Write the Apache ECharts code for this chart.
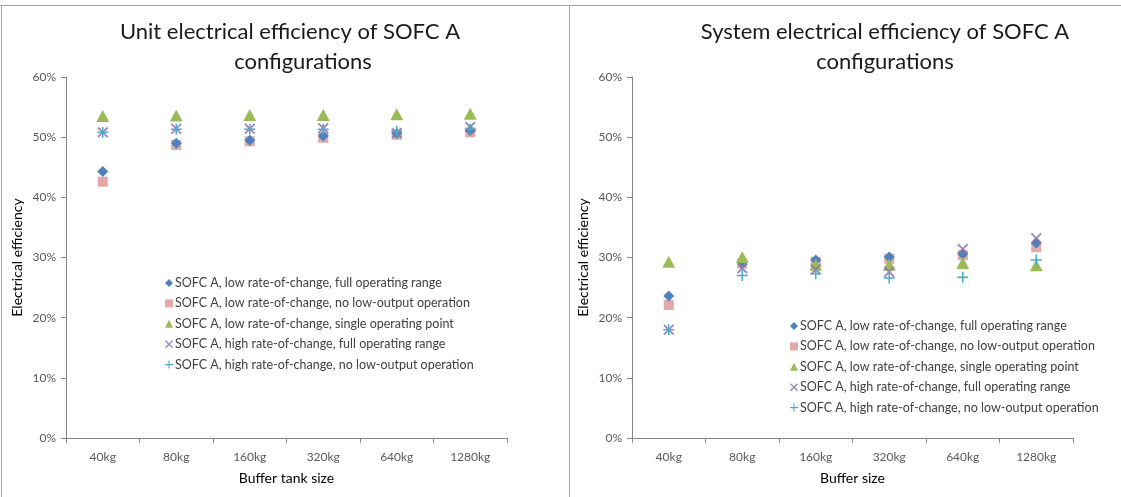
<!DOCTYPE html>
<html>
<head>
<meta charset="utf-8">
<script src="https://cdn.jsdelivr.net/npm/echarts@6/dist/echarts.min.js"></script>
<style>
html,body{margin:0;padding:0;background:#fff;}
#c{width:1121px;height:497px;}
</style>
</head>
<body>
<div id="c"></div>
<script>
// ---- data ----
const categories = ['40kg', '80kg', '160kg', '320kg', '640kg', '1280kg'];
const seriesNames = [
  'SOFC A, low rate-of-change, full operating range',
  'SOFC A, low rate-of-change, no low-output operation',
  'SOFC A, low rate-of-change, single operating point',
  'SOFC A, high rate-of-change, full operating range',
  'SOFC A, high rate-of-change, no low-output operation'
];
// Unit electrical efficiency (%)
const unitLowFull   = [44.3, 49.0, 49.5, 50.2, 50.6, 51.1];
const unitLowNoLow  = [42.6, 48.7, 49.3, 49.9, 50.4, 50.8];
const unitLowSingle = [53.5, 53.6, 53.7, 53.7, 53.8, 53.9];
const unitHighFull  = [50.8, 51.4, 51.4, 51.5, 50.7, 51.7];
const unitHighNoLow = [50.8, 51.3, 51.3, 51.3, 51.0, 51.3];
// System electrical efficiency (%)
const sysLowFull   = [23.6, 29.3, 29.6, 30.1, 30.6, 32.4];
const sysLowNoLow  = [22.1, 29.0, 29.3, 29.8, 30.4, 31.7];
const sysLowSingle = [29.3, 30.1, 28.8, 28.8, 29.1, 28.7];
const sysHighFull  = [18.0, 28.2, 28.0, 27.6, 31.4, 33.2];
const sysHighNoLow = [18.0, 27.0, 27.3, 26.6, 26.7, 29.6];
const yTicks = [0, 10, 20, 30, 40, 50, 60];

// ---- styles ----
const FONT = 'Lato';
const colors = ['#4F81BD', '#E2A3A2', '#9BBB59', '#8C72AE', '#4BACC6'];
const xPath = 'path://M0,1.2L1.2,0L5,3.8L8.8,0L10,1.2L6.2,5L10,8.8L8.8,10L5,6.2L1.2,10L0,8.8L3.8,5Z';
const plusPath = 'path://M4.3,0H5.7V4.3H10V5.7H5.7V10H4.3V5.7H0V4.3H4.3Z';
const symbols = ['diamond', 'rect', 'triangle', xPath, plusPath];
const sizes = [[11, 11], [10, 10], [13, 12], [11, 11], [11, 11]];
const opac = [1, 0.95, 1, 0.85, 1];

const unitData = [unitLowFull, unitLowNoLow, unitLowSingle, unitHighFull, unitHighNoLow];
const sysData = [sysLowFull, sysLowNoLow, sysLowSingle, sysHighFull, sysHighNoLow];

function mkSeries(arr, idx) {
  return arr.map((d, i) => ({
    name: seriesNames[i],
    type: 'scatter',
    xAxisIndex: idx, yAxisIndex: idx,
    data: d,
    symbol: symbols[i],
    symbolSize: sizes[i],
    itemStyle: { color: colors[i], opacity: opac[i] },
    z: [2, 1, 3, 4, 5][i]
  }));
}

const axisLineStyle = { color: '#868686', width: 1 };
function mkX(grid, name) {
  return {
    type: 'category', gridIndex: grid, data: categories,
    boundaryGap: true,
    axisLine: { lineStyle: axisLineStyle },
    axisTick: { show: true, length: 5, lineStyle: axisLineStyle },
    axisLabel: { color: '#595959', fontFamily: FONT, fontSize: 12, margin: 13 },
    name: name, nameLocation: 'middle', nameGap: 33,
    nameTextStyle: { color: '#000', fontFamily: FONT, fontSize: 14 }
  };
}
function mkY(grid) {
  return {
    type: 'value', gridIndex: grid, min: yTicks[0], max: yTicks[yTicks.length - 1], interval: 10,
    axisLine: { show: true, lineStyle: axisLineStyle },
    axisTick: { show: true, length: 5, lineStyle: axisLineStyle },
    splitLine: { show: false },
    axisLabel: { color: '#595959', fontFamily: FONT, fontSize: 12, margin: 10, formatter: '{value}%' },
    name: 'Electrical efficiency', nameLocation: 'middle', nameGap: 42,
    nameTextStyle: { color: '#000', fontFamily: FONT, fontSize: 14 }
  };
}
function mkLegend(left, top) {
  return {
    orient: 'vertical', left: left, top: top,
    itemWidth: 8, itemHeight: 8, itemGap: 6.4,
    data: seriesNames,
    textStyle: { color: '#404040', fontFamily: FONT, fontSize: 12.5, padding: [0, 0, 0, -3], lineHeight: 14 }
  };
}
const titleStyle = { color: '#1a1a1a', fontFamily: FONT, fontSize: 22, fontWeight: 'normal' };

const chart = echarts.init(document.getElementById('c'), null, { renderer: 'canvas' });
chart.setOption({
  backgroundColor: '#fff',
  animation: false,
  title: [
    { text: 'Unit electrical efficiency of SOFC A', left: 285, top: 16, textAlign: 'center', textStyle: titleStyle },
    { text: 'configurations', left: 298, top: 46, textAlign: 'center', textStyle: titleStyle },
    { text: 'System electrical efficiency of SOFC A', left: 880, top: 16, textAlign: 'center', textStyle: titleStyle },
    { text: 'configurations', left: 880, top: 46, textAlign: 'center', textStyle: titleStyle }
  ],
  grid: [
    { left: 66, right: 614, top: 77, bottom: 59 },
    { left: 632, right: 48, top: 77, bottom: 59 }
  ],
  xAxis: [mkX(0, 'Buffer tank size'), mkX(1, 'Buffer size')],
  yAxis: [mkY(0), mkY(1)],
  legend: [mkLegend(160, 271), mkLegend(785, 314)],
  series: mkSeries(unitData, 0).concat(mkSeries(sysData, 1)),
  graphic: [
    { type: 'line', shape: { x1: 0, y1: 5.5, x2: 1121, y2: 5.5 }, style: { stroke: '#a6a6a6', lineWidth: 1 } },
    { type: 'line', shape: { x1: 1.5, y1: 5, x2: 1.5, y2: 497 }, style: { stroke: '#a6a6a6', lineWidth: 1 } },
    { type: 'line', shape: { x1: 569.5, y1: 5, x2: 569.5, y2: 497 }, style: { stroke: '#a6a6a6', lineWidth: 1 } }
  ]
});
</script>
</body>
</html>
